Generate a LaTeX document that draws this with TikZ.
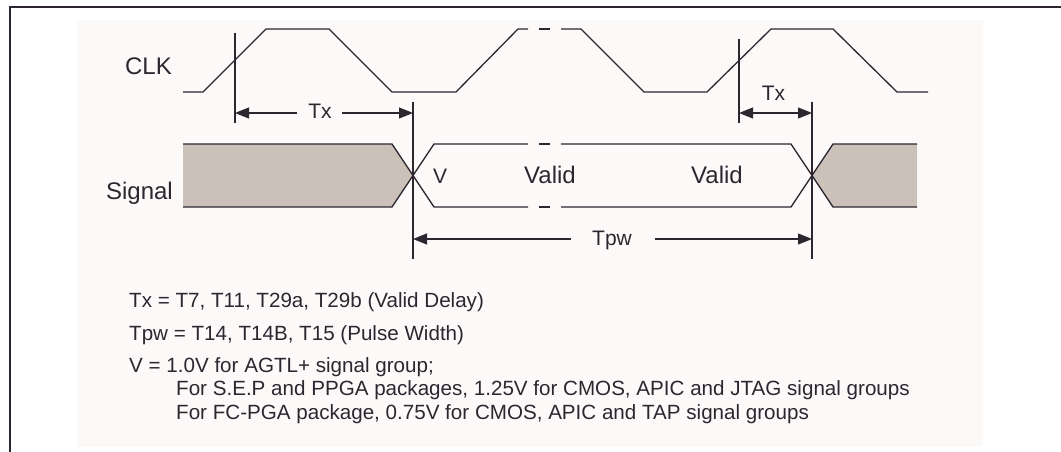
\documentclass[tikz,border=0pt]{standalone}
\usepackage{fontspec}
\setmainfont{Liberation Sans}
\usetikzlibrary{arrows.meta}
\definecolor{ink}{RGB}{45,38,48}
\definecolor{sig}{RGB}{204,193,184}
\definecolor{bg}{RGB}{251,250,249}
\begin{document}
\begin{tikzpicture}[x=1pt,y=-1pt,
  wave/.style={draw=ink, line width=1.3pt, line join=miter},
  marker/.style={draw=ink, line width=1.3pt},
  dimline/.style={draw=ink, line width=1.1pt, arrows={-Triangle[length=14pt,width=11pt]}},
  dimboth/.style={draw=ink, line width=1.1pt, arrows={Triangle[length=14pt,width=11pt]-Triangle[length=14pt,width=11pt]}},
  biglbl/.style={inner sep=0pt, text=ink, font=\fontsize{24}{28}\selectfont},
  smlbl/.style={inner sep=0pt, text=ink, font=\fontsize{21}{25}\selectfont},
  note/.style={inner sep=0pt, anchor=base west, text=ink, font=\fontsize{20.6}{24}\selectfont}]
\useasboundingbox (0,0) rectangle (1061,452);
\fill[white] (0,0) rectangle (1061,452);
\fill[bg] (77,20) rectangle (983,447);
\draw[ink, line width=2.3pt] (10,453) -- (10,7) -- (1062,7);

% CLK waveform
\draw[wave] (183,92) -- (203,92) -- (266,29) -- (329,29) -- (392,92) -- (456,92) -- (518,29) -- (528,29);
\draw[wave] (539,29) -- (550,29);
\draw[wave] (561,29) -- (581,29) -- (644,92) -- (707,92) -- (771,29) -- (833,29) -- (897,92) -- (928,92);

% Signal
\fill[sig] (183,144) -- (392,144) -- (413,175.5) -- (392,207) -- (183,207) -- cycle;
\fill[sig] (917,144) -- (833,144) -- (812,175.5) -- (833,207) -- (917,207) -- cycle;
\draw[wave] (183,144) -- (392,144) -- (434,207) -- (528,207);
\draw[wave] (183,207) -- (392,207) -- (434,144) -- (528,144);
\draw[wave] (539,144) -- (550,144);
\draw[wave] (539,207) -- (550,207);
\draw[wave] (561,144) -- (791,144) -- (833,207) -- (917,207);
\draw[wave] (561,207) -- (791,207) -- (833,144) -- (917,144);

% markers
\coordinate (m1t) at (235,33);  \coordinate (m1b) at (235,123);
\coordinate (m2t) at (413,102); \coordinate (m2b) at (413,259);
\coordinate (m3t) at (739,39);  \coordinate (m3b) at (739,123);
\coordinate (m4t) at (812,102); \coordinate (m4b) at (812,259);
\draw[marker] (m1t) -- (m1b);
\draw[marker] (m2t) -- (m2b);
\draw[marker] (m3t) -- (m3b);
\draw[marker] (m4t) -- (m4b);

% dimension arrows
\coordinate (a1l) at (235,113); \coordinate (a1r) at (413,113);
\coordinate (a2l) at (739,113); \coordinate (a2r) at (812,113);
\coordinate (a3l) at (413,239); \coordinate (a3r) at (812,239);
\node[smlbl, anchor=base] (tx1) at (320,118) {Tx};
\coordinate (tx1w) at (297,113); \coordinate (tx1e) at (342,113);
\draw[dimline] (tx1w) -- (a1l);
\draw[dimline] (tx1e) -- (a1r);
\node[smlbl, anchor=base] (tx2) at (773.5,100) {Tx};
\draw[dimboth] (a2l) -- (a2r);
\node[smlbl, anchor=base] (tpw) at (612,245) {Tpw};
\coordinate (tpww) at (571,239); \coordinate (tpwe) at (655,239);
\draw[dimline] (tpww) -- (a3l);
\draw[dimline] (tpwe) -- (a3r);

% labels
\node[biglbl, anchor=base east] (clk) at (172,75) {CLK};
\node[biglbl, anchor=base east] (signal) at (173,199) {Signal};
\node[smlbl, anchor=base west] (vlab) at (433,183) {V};
\node[biglbl, anchor=base west] (valid1) at (524,183) {Valid};
\node[biglbl, anchor=base west] (valid2) at (691,183) {Valid};

% notes
\node[note] (n1) at (129,307) {Tx = T7, T11, T29a, T29b (Valid Delay)};
\node[note] (n2) at (129,340) {Tpw = T14, T14B, T15 (Pulse Width)};
\node[note] (n3) at (129,372) {V = 1.0V for AGTL+ signal group;};
\node[note] (n4) at (176,395) {For S.E.P and PPGA packages, 1.25V for CMOS, APIC and JTAG signal groups};
\node[note] (n5) at (176,419) {For FC-PGA package, 0.75V for CMOS, APIC and TAP signal groups};
\end{tikzpicture}
\end{document}
